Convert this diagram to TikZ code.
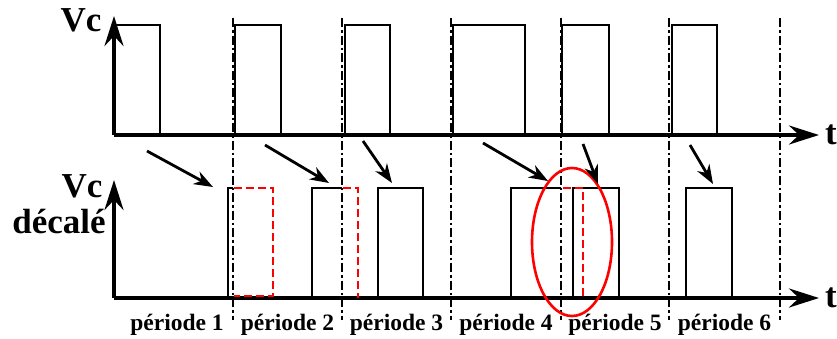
\documentclass[tikz,border=0pt]{standalone}
\usepackage{fontspec}
\setmainfont{Liberation Serif}
\usetikzlibrary{arrows.meta,shapes.geometric}
\begin{document}
\begin{tikzpicture}[x=1pt,y=-1pt,
  axis/.style={line width=3.6pt,-{Stealth[length=30pt,width=19pt,inset=10pt]}},
  pulse/.style={line width=2pt,line join=miter},
  shifted/.style={red,line width=2.3pt,dash pattern=on 8pt off 4pt},
  period/.style={line width=2pt,dash pattern=on 9pt off 3pt on 2.5pt off 3pt},
  pointer/.style={line width=2.8pt,-{Stealth[length=19pt,width=14pt,inset=6pt]}},
  lbl/.style={font=\bfseries\fontsize{35}{37}\selectfont,inner sep=0pt},
  plbl/.style={font=\bfseries\fontsize{23.5}{25}\selectfont,inner sep=0pt,anchor=base}]
\useasboundingbox (0,0) rectangle (837,338);
% period boundaries
\foreach \x in {233,342,451,561,669,780}{
  \draw[period] (\x,18) -- (\x,320);
}
% top axes
\coordinate (o1) at (114,135);
\coordinate (y1) at (114,16);
\coordinate (x1) at (819,135);
\draw[axis] (o1) -- (y1);
\draw[axis] (o1) -- (x1);
\node[lbl] (vc1) at (81,20) {Vc};
\node[lbl,anchor=west] (t1) at (825,135) {t};
% top pulses
\draw[pulse] (114,135) -- (114,25) -- (160,25) -- (160,135);
\draw[pulse] (235,135) -- (235,25) -- (281,25) -- (281,135);
\draw[pulse] (345,135) -- (345,25) -- (390,25) -- (390,135);
\draw[pulse] (453,135) -- (453,25) -- (525,25) -- (525,135);
\draw[pulse] (562,135) -- (562,25) -- (609,25) -- (609,135);
\draw[pulse] (672,135) -- (672,25) -- (717,25) -- (717,135);
% bottom axes
\coordinate (o2) at (114,298);
\coordinate (y2) at (114,180);
\coordinate (x2) at (819,298);
\draw[axis] (o2) -- (y2);
\draw[axis] (o2) -- (x2);
\node[lbl] (vc2) at (82,186) {Vc};
\node[lbl] (dec) at (59,222) {décalé};
\node[lbl,anchor=west] (t2) at (825,298) {t};
% bottom pulses
\draw[pulse] (228,298) -- (228,188) -- (233,188);
\draw[pulse] (312,298) -- (312,188) -- (342,188);
\draw[pulse] (378,298) -- (378,188) -- (423,188) -- (423,298);
\draw[pulse] (511,298) -- (511,188) -- (561,188);
\draw[pulse] (573,298) -- (573,188) -- (619,188) -- (619,298);
\draw[pulse] (686,298) -- (686,188) -- (732,188) -- (732,298);
% shifted (red dashed) parts
\draw[shifted] (234,188) -- (273,188) -- (273,296) -- (234,296);
\draw[shifted] (343,188) -- (358,188) -- (358,298);
\draw[shifted] (563,188) -- (583,188) -- (583,298);
% highlight ellipse
\node[draw=red,line width=2.6pt,ellipse,minimum width=80pt,minimum height=148pt,inner sep=0pt] (hl) at (572,242) {};
% pointers
\coordinate (a1s) at (147,151); \coordinate (a1e) at (213,187);
\coordinate (a2s) at (265,145); \coordinate (a2e) at (329,183);
\coordinate (a3s) at (363,141); \coordinate (a3e) at (392,183);
\coordinate (a4s) at (483,143); \coordinate (a4e) at (548,181);
\coordinate (a5s) at (583,144); \coordinate (a5e) at (598,184);
\coordinate (a6s) at (690,145); \coordinate (a6e) at (713,184);
\foreach \i in {1,...,6}{ \draw[pointer] (a\i s) -- (a\i e); }
% period labels
\foreach \i/\x in {1/177,2/287.5,3/396.5,4/506,5/615,6/724.5}{
  \node[plbl] (p\i) at (\x,330) {période \i};
}
\end{tikzpicture}
\end{document}
